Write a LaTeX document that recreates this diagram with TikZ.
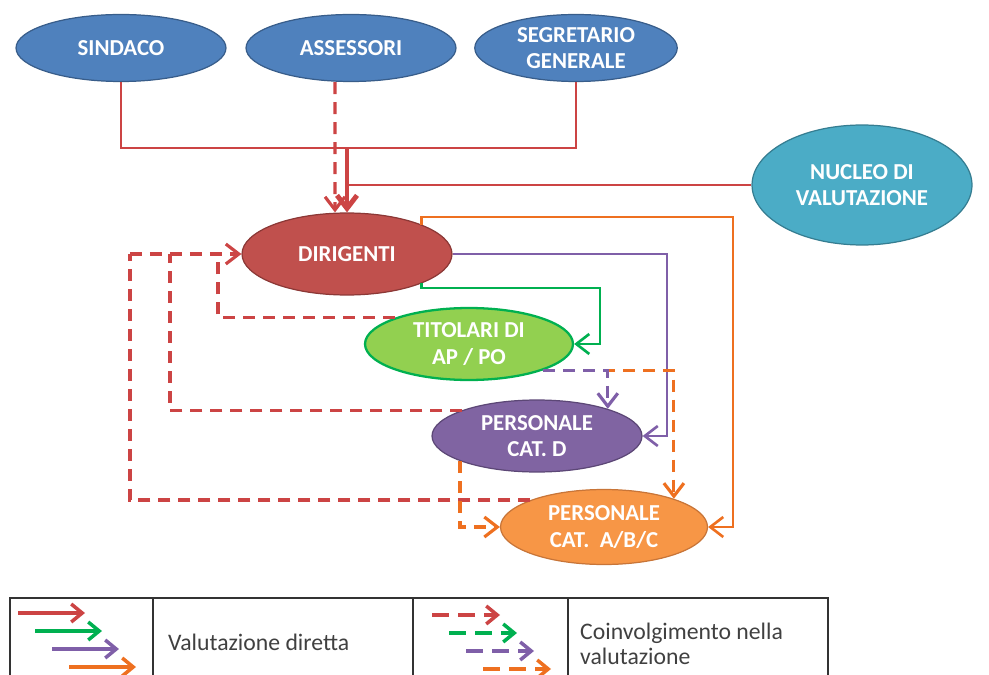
\documentclass[tikz,border=0pt]{standalone}
\usepackage{fontspec}
\setmainfont{Carlito}
\usetikzlibrary{shapes.geometric,arrows.meta}
\definecolor{offblue}{HTML}{4F81BD}
\definecolor{offblueb}{HTML}{385D8A}
\definecolor{offred}{HTML}{C0504D}
\definecolor{offredb}{HTML}{8C3836}
\definecolor{offgreen}{HTML}{92D050}
\definecolor{linegreen}{HTML}{00B050}
\definecolor{offpurple}{HTML}{8064A2}
\definecolor{offpurpleb}{HTML}{5C4776}
\definecolor{linepurple}{HTML}{7F5FA8}
\definecolor{offorange}{HTML}{F79646}
\definecolor{offorangeb}{HTML}{C87538}
\definecolor{lineorange}{HTML}{EE7020}
\definecolor{offteal}{HTML}{4BACC6}
\definecolor{offtealb}{HTML}{357D91}
\definecolor{linered}{HTML}{CC4444}

\begin{document}
\begin{tikzpicture}
		[x=0.02cm,y=-0.02cm,
		>={Straight Barb[length=2.6mm,width=4mm]},
		blob/.style={ellipse,draw,line width=0.7pt,inner sep=0pt,text=white,align=center,
			font=\fontsize{13}{15}\selectfont\bfseries},
		direct/.style={line width=1.5pt},
		involve/.style={line width=1.8pt,dash pattern=on 2.4mm off 1.6mm},
		legtext/.style={anchor=west,align=left,text=black!75,font=\fontsize{13.5}{14.5}\selectfont},]
		\useasboundingbox (0,0) rectangle (989,675);
		
		% nodes
		\node[blob,fill=offblue,draw=offblueb,minimum width=4.2cm,minimum height=1.34cm] (sindaco) at (121,48) {SINDACO};
		\node[blob,fill=offblue,draw=offblueb,minimum width=4.2cm,minimum height=1.34cm] (assessori) at (351,48) {ASSESSORI};
		\node[blob,fill=offblue,draw=offblueb,minimum width=4.05cm,minimum height=1.34cm] (segretario) at (576,48) {SEGRETARIO\\GENERALE};
		\node[blob,fill=offteal,draw=offtealb,minimum width=4.4cm,minimum height=2.4cm] (nucleo) at (862,185) {NUCLEO DI\\VALUTAZIONE};
		\node[blob,fill=offred,draw=offredb,minimum width=4.2cm,minimum height=1.64cm] (dirigenti) at (347,254) {DIRIGENTI};
		\node[blob,fill=offgreen,draw=linegreen,line width=1.3pt,minimum width=4.16cm,minimum height=1.44cm] (titolari) at (469,344) {TITOLARI DI\\AP / PO};
		\node[blob,fill=offpurple,draw=offpurpleb,minimum width=4.2cm,minimum height=1.44cm] (persD) at (537,436) {PERSONALE\\CAT. D};
		\node[blob,fill=offorange,draw=offorangeb,minimum width=4.14cm,minimum height=1.5cm] (persABC) at (604,527) {PERSONALE\\CAT.~ A/B/C};
		
		\coordinate (join) at (347,148);
		\coordinate (oc) at (733,217);
		\coordinate (pc) at (667,254);
		\coordinate (gc) at (600,288);
		\coordinate (lA) at (130,254);
		\coordinate (lB) at (170,254);
		\coordinate (lC) at (218,254);
		
		% direct evaluation
		\draw[direct,linered] (sindaco.south) |- (join);
		\draw[direct,linered] (segretario.south) |- (join);
		\draw[direct,linered] (nucleo.west) -- (nucleo.west -| join);
		\draw[linered,line width=2.8pt,->] (join) -- (dirigenti.north);
		\draw[direct,lineorange,->] (dirigenti.north east) |- (oc) |- (persABC.east);
		\draw[direct,linepurple,->] (dirigenti.east) -- (pc) |- (persD.east);
		\draw[direct,linegreen,->] (dirigenti.south east) |- (gc) |- (titolari.east);
		
		% involvement
		\draw[involve,linered,->] ([xshift=-0.32cm]assessori.south) -- ([xshift=-0.24cm]dirigenti.north);
		\draw[involve,linered] (titolari.north west) -| (lC);
		\draw[involve,linered] (persD.north west) -| (lB);
		\draw[involve,linered] (persABC.north west) -| (lA);
		\draw[involve,linered,->] (lA) -- (dirigenti.west);
		\draw[involve,lineorange,->] (titolari.south east) -| (persABC.22);
		\draw[involve,linepurple,->] (titolari.south east) -| (persD.21);
		\draw[involve,lineorange,->] (persD.198) |- (persABC.west);
		
		% legend
		\draw[line width=1.2pt,black!80] (10,675) |- (828,598) -- (828,675);
		\draw[line width=1.2pt,black!80] (153,598) -- (153,675);
		\draw[line width=1.2pt,black!80] (413,598) -- (413,675);
		\draw[line width=1.2pt,black!80] (568,598) -- (568,675);
		\foreach \c [count=\i from 0] in {linered,linegreen,linepurple,lineorange}{
			\draw[line width=2pt,\c,-{Straight Barb[length=2.2mm,width=3.6mm]}] (18+17*\i,613+18*\i) -- ++(67,0);
			\draw[line width=2pt,\c,-{Straight Barb[length=2.2mm,width=3.6mm]},dash pattern=on 3.4mm off 1.8mm] (432+17*\i,615+18*\i) -- ++(68,0);
		}
		\node[legtext] (lgdirect) at (162,642) {Valutazione diretta};
		\node[legtext] (lginvolve) at (574,644) {Coinvolgimento nella\\valutazione};
		
	\end{tikzpicture}
\end{document}
